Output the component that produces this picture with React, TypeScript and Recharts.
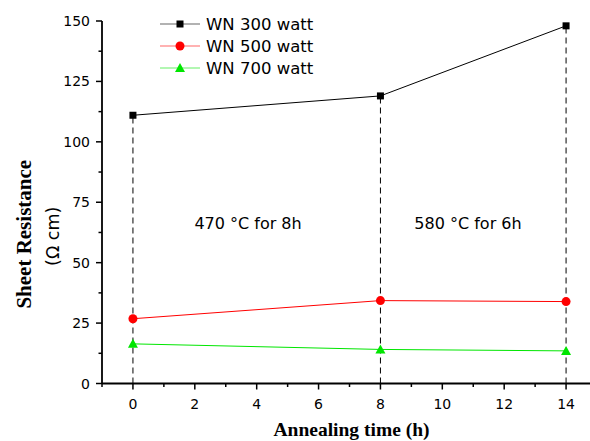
import React from 'react';
import { LineChart, Line, XAxis, YAxis, ReferenceLine, ReferenceDot } from 'recharts';

const times = [0, 8, 14];
const wn300 = [111, 119, 148];
const wn500 = [26.8, 34.3, 33.9];
const wn700 = [16.4, 14.1, 13.5];

const seriesNames = ['WN 300 watt', 'WN 500 watt', 'WN 700 watt'];
const seriesKeys = ['wn300', 'wn500', 'wn700'];
const seriesColors = ['#000000', '#ff0000', '#00e600'];
const seriesShapes = ['square', 'circle', 'triangle'];

const xTicks = [-1, 0, 1, 2, 3, 4, 5, 6, 7, 8, 9, 10, 11, 12, 13, 14, 15];
const yTicks = [0, 12.5, 25, 37.5, 50, 62.5, 75, 87.5, 100, 112.5, 125, 137.5, 150];

const annotations = [
  { x: 3.72, y: 66.2, text: '470 °C for 8h' },
  { x: 10.83, y: 66.2, text: '580 °C for 6h' },
];

const data = times.map((t, i) => ({ time: t, wn300: wn300[i], wn500: wn500[i], wn700: wn700[i] }));

const SANS = '"DejaVu Sans", sans-serif';
const SERIF = '"Liberation Serif", "Times New Roman", serif';

function Marker({ shape, cx, cy, color }: { shape: string; cx: number; cy: number; color: string }) {
  if (shape === 'square') {
    return <rect x={cx - 3.5} y={cy - 3.5} width={7} height={7} fill={color} />;
  }
  if (shape === 'circle') {
    return <circle cx={cx} cy={cy} r={4.5} fill={color} />;
  }
  return <polygon points={`${cx},${cy - 5} ${cx - 5},${cy + 4} ${cx + 5},${cy + 4}`} fill={color} />;
}

const XTick = (props: any) => {
  const { x, y, payload } = props;
  const v = payload.value;
  const major = v % 2 === 0;
  return (
    <g>
      <line x1={x} x2={x} y1={y} y2={y + (major ? 6 : 3.5)} stroke="#000" strokeWidth={1.5} />
      {major && v >= 0 && v <= 14 && (
        <text x={x} y={y + 25.5} textAnchor="middle" fontSize={14} fontFamily={SANS} fill="#000">
          {v}
        </text>
      )}
    </g>
  );
};

const YTick = (props: any) => {
  const { x, y, payload } = props;
  const v = payload.value;
  const major = v % 25 === 0;
  return (
    <g>
      <line x1={x - (major ? 6 : 3.5)} x2={x} y1={y} y2={y} stroke="#000" strokeWidth={1.5} />
      {major && (
        <text x={x - 12} y={y + 5} textAnchor="end" fontSize={14} fontFamily={SANS} fill="#000">
          {v}
        </text>
      )}
    </g>
  );
};

const YLabel = (props: any) => {
  const vb = props.viewBox || {};
  const cy = vb.y + vb.height / 2 + 32;
  const x1 = vb.x + 24;
  const x2 = vb.x + 53;
  return (
    <g>
      <text
        x={x1}
        y={cy}
        transform={`rotate(-90, ${x1}, ${cy})`}
        textAnchor="middle"
        dominantBaseline="central"
        fontSize={21}
        fontWeight="bold"
        fontFamily={SERIF}
        fill="#000"
      >
        Sheet Resistance
      </text>
      <text
        x={x2}
        y={cy + 2}
        transform={`rotate(-90, ${x2}, ${cy + 2})`}
        textAnchor="middle"
        dominantBaseline="central"
        fontSize={17.5}
        fontFamily={SANS}
        fill="#000"
      >
        (Ω cm)
      </text>
    </g>
  );
};

const XLabel = (props: any) => {
  const vb = props.viewBox || {};
  return (
    <text
      x={vb.x + vb.width / 2 + 2}
      y={vb.y + 52.5}
      textAnchor="middle"
      fontSize={19.5}
      fontWeight="bold"
      fontFamily={SERIF}
      fill="#000"
    >
      Annealing time (h)
    </text>
  );
};

export default function App() {
  return (
    <div style={{ position: 'fixed', left: 0, top: 0, width: 590, height: 441, overflow: 'hidden', background: '#fff' }}>
      <LineChart width={610} height={441} data={data} margin={{ top: 21, right: 13, left: 0, bottom: 0 }}>
        <XAxis
          type="number"
          dataKey="time"
          domain={[-1, 15]}
          ticks={xTicks}
          interval={0}
          height={57.5}
          tickSize={0}
          tickMargin={0}
          tickLine={false}
          tick={<XTick />}
          axisLine={{ stroke: '#000', strokeWidth: 1.8 }}
          label={<XLabel />}
        />
        <YAxis
          type="number"
          domain={[0, 150]}
          ticks={yTicks}
          interval={0}
          width={102}
          tickSize={0}
          tickMargin={0}
          tickLine={false}
          tick={<YTick />}
          axisLine={{ stroke: '#000', strokeWidth: 1.8 }}
          label={<YLabel />}
        />
        {times.map((t, i) => (
          <ReferenceLine
            key={'rl' + i}
            segment={[{ x: t, y: 0 }, { x: t, y: wn300[i] }]}
            stroke="#000"
            strokeWidth={1}
            strokeDasharray="6 4"
          />
        ))}
        {annotations.map((a, i) => (
          <ReferenceDot
            key={'an' + i}
            x={a.x}
            y={a.y}
            r={0}
            fill="none"
            stroke="none"
            label={{ value: a.text, position: 'center', fontSize: 16, fontFamily: SANS, fill: '#000' }}
          />
        ))}
        {seriesKeys.map((k, i) => (
          <Line
            key={k}
            type="linear"
            dataKey={k}
            name={seriesNames[i]}
            stroke={seriesColors[i]}
            strokeWidth={1}
            isAnimationActive={false}
            dot={(p: any) => (
              <Marker key={k + p.index} shape={seriesShapes[i]} cx={p.cx} cy={p.cy} color={seriesColors[i]} />
            )}
            activeDot={false}
          />
        ))}
      </LineChart>
      <svg width={590} height={441} style={{ position: 'absolute', left: 0, top: 0, pointerEvents: 'none' }}>
        {seriesNames.map((name, i) => {
          const y = 24 + 22 * i;
          return (
            <g key={name}>
              <line x1={160} x2={200} y1={y} y2={y} stroke={seriesColors[i]} strokeWidth={1} opacity={0.6} />
              <Marker shape={seriesShapes[i]} cx={180} cy={y} color={seriesColors[i]} />
              <text x={206} y={y + 6} fontSize={16.5} fontFamily={SANS} fill="#000">
                {name}
              </text>
            </g>
          );
        })}
      </svg>
    </div>
  );
}
